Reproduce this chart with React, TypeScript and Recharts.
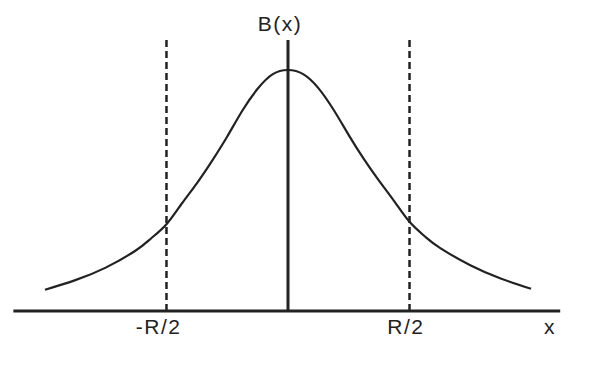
import React from 'react';
import { LineChart, Line, XAxis, YAxis, ReferenceLine } from 'recharts';

// x in units of R/2, B(x) normalised to its peak
const xValues = [-2.0, -1.75, -1.5, -1.25, -1.125, -1.0, -0.875, -0.75, -0.625, -0.5, -0.375, -0.25, -0.125, 0, 0.125, 0.25, 0.375, 0.5, 0.625, 0.75, 0.875, 1.0, 1.125, 1.25, 1.5, 1.75, 2.0];
const bValues = [0.088, 0.128, 0.18, 0.252, 0.302, 0.36, 0.445, 0.53, 0.623, 0.724, 0.832, 0.922, 0.983, 1.0, 0.983, 0.925, 0.835, 0.73, 0.63, 0.54, 0.455, 0.37, 0.31, 0.262, 0.19, 0.135, 0.092];

const xTicks = [-1, 1, 2.15];
const xTickLabels = ['-R/2', 'R/2', 'x'];
const axisLabel = 'B(x)';
const markerX = [-1, 1];
const axisExtent = { xMin: -2.26, xMax: 2.24, yTop: 1.125 };

const data = xValues.map((x, i) => ({ x, b: bValues[i] }));

const INK = '#222';
const FONT = '"Liberation Sans", Arial, sans-serif';

const XTick = (props: any) => {
  const { x, y, payload, index } = props;
  const label = xTickLabels[xTicks.indexOf(payload.value)] ?? xTickLabels[index];
  const isVar = label === 'x';
  return (
    <text
      x={x + (isVar ? 0 : 15)}
      y={y}
      dy={15}
      textAnchor={isVar ? 'middle' : 'end'}
      fontFamily={FONT}
      fontSize={21}
      letterSpacing={isVar ? 0 : 1.5}
      fill={INK}
    >
      {label}
    </text>
  );
};

const TopLabel = (props: any) => {
  const vb = props.viewBox || {};
  return (
    <text
      x={(vb.x ?? 0) - 8}
      y={(vb.y ?? 0) - 9}
      textAnchor="middle"
      fontFamily={FONT}
      fontSize={21}
      letterSpacing={1.5}
      fill={INK}
    >
      {axisLabel}
    </text>
  );
};

export default function App() {
  return (
    <div style={{ position: 'absolute', left: 0, top: 0, width: 607, height: 369, background: '#fff' }}>
      <LineChart
        width={607}
        height={369}
        data={data}
        margin={{ top: 21.8, right: 39.5, bottom: 28, left: 8.5 }}
      >
        <XAxis
          type="number"
          dataKey="x"
          domain={[-2.3, 2.3]}
          ticks={xTicks}
          axisLine={false}
          tickLine={false}
          height={30}
          tick={<XTick />}
          interval={0}
          allowDataOverflow
        />
        <YAxis type="number" domain={[0, 1.2]} hide width={0} allowDataOverflow />
        <ReferenceLine
          segment={[{ x: axisExtent.xMin, y: 0 }, { x: axisExtent.xMax, y: 0 }]}
          stroke={INK}
          strokeWidth={3}
          ifOverflow="visible"
        />
        <ReferenceLine
          segment={[{ x: 0, y: 0 }, { x: 0, y: axisExtent.yTop }]}
          stroke={INK}
          strokeWidth={3}
          ifOverflow="visible"
          label={<TopLabel />}
        />
        {markerX.map((m) => (
          <ReferenceLine
            key={m}
            segment={[{ x: m, y: 0 }, { x: m, y: axisExtent.yTop }]}
            stroke={INK}
            strokeWidth={2.5}
            strokeDasharray="7 4"
            ifOverflow="visible"
          />
        ))}
        <Line
          type="natural"
          dataKey="b"
          stroke={INK}
          strokeWidth={2.2}
          dot={false}
          isAnimationActive={false}
        />
      </LineChart>
    </div>
  );
}
